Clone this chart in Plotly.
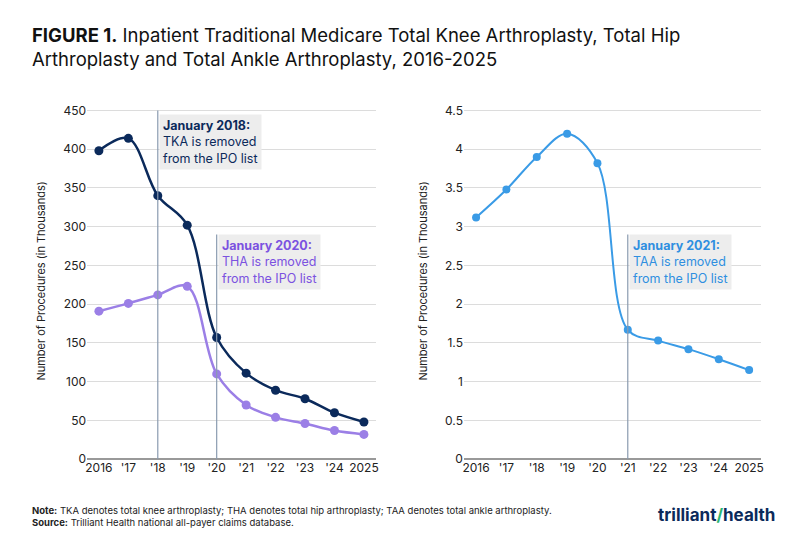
import plotly.graph_objects as go

years = list(range(2016, 2026))
tick_labels = ["2016", "'17", "'18", "'19", "'20", "'21", "'22", "'23", "'24", "2025"]
tka = [398, 414, 340, 302, 157, 111, 89, 78, 60, 48]
tha = [191, 201, 212, 223, 110, 70, 54, 46, 37, 32]
taa = [3.12, 3.48, 3.90, 4.20, 3.82, 1.67, 1.53, 1.42, 1.29, 1.15]

FONT = "Inter"
fig = go.Figure()
fig.add_trace(go.Scatter(x=years, y=tha, mode="lines+markers", line=dict(color="#9b7fe6", width=2.5, shape="spline", smoothing=1.0),
                         marker=dict(size=9), xaxis="x", yaxis="y", showlegend=False))
fig.add_trace(go.Scatter(x=years, y=tka, mode="lines+markers", line=dict(color="#0b2a5b", width=2.5, shape="spline", smoothing=1.0),
                         marker=dict(size=9), xaxis="x", yaxis="y", showlegend=False))
fig.add_trace(go.Scatter(x=years, y=taa, mode="lines+markers", line=dict(color="#3a9be6", width=2, shape="spline", smoothing=1.0),
                         marker=dict(size=8), xaxis="x2", yaxis="y2", showlegend=False))

ax = dict(tickvals=years, ticktext=tick_labels, showgrid=False, showline=False, ticks="",
          tickfont=dict(family=FONT, size=12, color="#222"), range=[2015.6, 2025.4], zeroline=False)
ytitle = dict(text="Number of Procedures (in Thousands)", font=dict(family=FONT, size=11, color="#222"))
fig.update_layout(
    width=800, height=548, plot_bgcolor="white", paper_bgcolor="white",
    margin=dict(l=0, r=0, t=0, b=0),
    xaxis=dict(domain=[0.097, 0.46], anchor="y", **ax),
    xaxis2=dict(domain=[0.571, 0.945], anchor="y2", **ax),
    yaxis=dict(domain=[0.166, 0.825], range=[0, 460], tickvals=list(range(0, 451, 50)), gridcolor="#dcdcdc",
               zeroline=True, zerolinecolor="#999", title=ytitle,
               tickfont=dict(family=FONT, size=12, color="#222"), anchor="x"),
    yaxis2=dict(domain=[0.166, 0.825], range=[0, 4.6], tickvals=[0, 0.5, 1, 1.5, 2, 2.5, 3, 3.5, 4, 4.5],
                ticktext=["0", "0.5", "1", "1.5", "2", "2.5", "3", "3.5", "4", "4.5"], gridcolor="#dcdcdc",
                zeroline=True, zerolinecolor="#999", title=ytitle,
                tickfont=dict(family=FONT, size=12, color="#222"), anchor="x2"),
)
for xr, yr, xv, top in [("x", "y", 2018, 450), ("x", "y", 2020, 290), ("x2", "y2", 2021, 2.9)]:
    fig.add_shape(type="line", xref=xr, yref=yr, x0=xv, x1=xv, y0=0, y1=top, line=dict(color="#8a9bb0", width=1.2))

def box(xr, yr, x, y, head, body, color):
    fig.add_annotation(xref=xr, yref=yr, x=x, y=y, xanchor="left", yanchor="top", showarrow=False, align="left",
                       text=f"<b>{head}</b><br>{body}", bgcolor="#ededed", borderpad=3,
                       font=dict(family=FONT, size=12.5, color=color))
box("x", "y", 2018.05, 445, "January 2018:", "TKA is removed<br>from the IPO list", "#0b2a5b")
box("x", "y", 2020.05, 290, "January 2020:", "THA is removed<br>from the IPO list", "#7b52e0")
box("x2", "y2", 2021.05, 2.9, "January 2021:", "TAA is removed<br>from the IPO list", "#2f8fe0")

fig.add_annotation(xref="paper", yref="paper", x=0.025, y=0.975, xanchor="left", yanchor="top", showarrow=False, align="left",
                   text="<b>FIGURE 1.</b> Inpatient Traditional Medicare Total Knee Arthroplasty, Total Hip<br>Arthroplasty and Total Ankle Arthroplasty, 2016-2025",
                   font=dict(family=FONT, size=18.5, color="#111"))
fig.add_annotation(xref="paper", yref="paper", x=0.025, y=0.035, xanchor="left", yanchor="bottom", showarrow=False, align="left",
                   text="<b>Note:</b> TKA denotes total knee arthroplasty; THA denotes total hip arthroplasty; TAA denotes total ankle arthroplasty.<br><b>Source:</b> Trilliant Health national all-payer claims database.",
                   font=dict(family=FONT, size=9.5, color="#222"))
fig.add_annotation(xref="paper", yref="paper", x=0.965, y=0.04, xanchor="right", yanchor="bottom", showarrow=False,
                   text="<b>trilliant</b><span style='color:#2bb673'><b>/</b></span><b>health</b>",
                   font=dict(family=FONT, size=17, color="#0b2a5b"))
fig.write_html("out.html")
